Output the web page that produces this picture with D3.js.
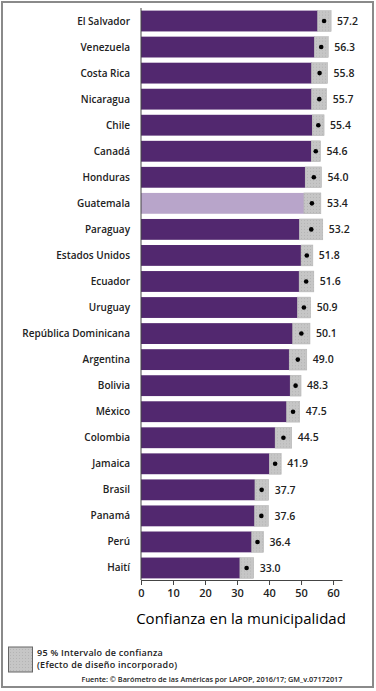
<!DOCTYPE html>
<html>
<head>
<meta charset="utf-8">
<script src="https://cdn.jsdelivr.net/npm/d3@7"></script>
<style>
  html, body { margin: 0; padding: 0; background: #fff; }
  svg { display: block; font-family: "Open Sans", "Noto Sans", sans-serif; }
</style>
</head>
<body>
<div id="chart"></div>
<script>
// Confianza en la municipalidad - LAPOP 2016/17

const countries = ['El Salvador', 'Venezuela', 'Costa Rica', 'Nicaragua', 'Chile', 'Canadá', 'Honduras',
  'Guatemala', 'Paraguay', 'Estados Unidos', 'Ecuador', 'Uruguay', 'República Dominicana', 'Argentina',
  'Bolivia', 'México', 'Colombia', 'Jamaica', 'Brasil', 'Panamá', 'Perú', 'Haití'];
const means = [57.2, 56.3, 55.8, 55.7, 55.4, 54.6, 54.0, 53.4, 53.2, 51.8, 51.6, 50.9, 50.1, 49.0,
  48.3, 47.5, 44.5, 41.9, 37.7, 37.6, 36.4, 33.0];
const ciLow = [55.2, 54.2, 53.3, 53.3, 53.5, 53.2, 51.3, 50.9, 49.5, 50.0, 49.4, 48.9, 47.4, 46.3,
  46.6, 45.5, 41.9, 40.1, 35.6, 35.5, 34.6, 30.9];
const ciHigh = [59.4, 58.5, 58.3, 58.0, 57.2, 56.1, 56.4, 56.2, 56.8, 53.7, 54.0, 53.0, 52.8, 51.8,
  50.0, 49.6, 47.1, 43.8, 39.9, 39.8, 38.3, 35.2];
const highlight = 'Guatemala';
const xTicks = [0, 10, 20, 30, 40, 50, 60];

const W = 376, H = 691;
const data = countries.map((c, i) => ({ name: c, mean: means[i], lo: ciLow[i], hi: ciHigh[i] }));

const svg = d3.select('#chart').append('svg')
  .attr('width', W)
  .attr('height', H);

// frame
svg.append('rect')
  .attr('x', 2).attr('y', 2)
  .attr('width', 371).attr('height', 685)
  .attr('fill', '#fff')
  .attr('stroke', '#8a8a8a')
  .attr('stroke-width', 2);

// stipple pattern for the CI boxes
const defs = svg.append('defs');
const pat = defs.append('pattern')
  .attr('id', 'stip')
  .attr('width', 3).attr('height', 3)
  .attr('patternUnits', 'userSpaceOnUse');
pat.append('rect').attr('width', 3).attr('height', 3).attr('fill', '#c6c6c6');
pat.append('rect').attr('x', 1).attr('y', 1).attr('width', 1).attr('height', 1).attr('fill', '#b4b4b4');

const x = d3.scaleLinear().domain([0, 62.8]).range([141, 342]);
const y = d3.scaleBand().domain(countries).range([8, 581]).paddingInner(0.2).paddingOuter(0.1);

const rows = svg.append('g').selectAll('g')
  .data(data).join('g')
  .attr('transform', d => `translate(0,${y(d.name)})`);

rows.append('rect')
  .attr('x', x(0))
  .attr('width', d => x(d.lo) - x(0))
  .attr('height', y.bandwidth())
  .attr('fill', d => d.name === highlight ? '#b8a5ca' : '#52286f');

rows.append('rect')
  .attr('x', d => x(d.lo))
  .attr('width', d => x(d.hi) - x(d.lo))
  .attr('height', y.bandwidth())
  .attr('fill', 'url(#stip)')
  .attr('stroke', '#b0b0b0')
  .attr('stroke-width', 0.5);

rows.append('circle')
  .attr('cx', d => x(d.mean))
  .attr('cy', y.bandwidth() / 2)
  .attr('r', 2.3)
  .attr('fill', '#000');

rows.append('text')
  .attr('x', d => x(d.hi) + 6)
  .attr('y', y.bandwidth() / 2)
  .attr('dy', '0.35em')
  .attr('font-size', 10.5)
  .attr('font-weight', 600)
  .attr('fill', '#222')
  .text(d => d.mean.toFixed(1));

rows.append('text')
  .attr('x', 130)
  .attr('y', y.bandwidth() / 2)
  .attr('dy', '0.35em')
  .attr('text-anchor', 'end')
  .attr('font-size', 10)
  .attr('font-weight', 600)
  .attr('fill', '#222')
  .text(d => d.name);

// y axis line
svg.append('line')
  .attr('x1', x(0)).attr('x2', x(0))
  .attr('y1', 8).attr('y2', 580)
  .attr('stroke', '#444')
  .attr('stroke-width', 1);

// x axis
const xAxis = svg.append('g')
  .attr('transform', 'translate(0,580)')
  .call(d3.axisBottom(x).tickValues(xTicks).tickSize(5).tickPadding(4).tickSizeOuter(0));
xAxis.select('.domain').attr('stroke', '#444');
xAxis.selectAll('.tick line').attr('stroke', '#444');
xAxis.selectAll('.tick text')
  .attr('font-size', 11)
  .attr('font-weight', 600)
  .attr('fill', '#222')
  .attr('font-family', '"Open Sans", sans-serif');

svg.append('text')
  .attr('x', 241).attr('y', 624)
  .attr('text-anchor', 'middle')
  .attr('font-size', 15)
  .attr('font-weight', 500)
  .attr('fill', '#000')
  .text('Confianza en la municipalidad');

// legend
svg.append('rect')
  .attr('x', 8.5).attr('y', 647)
  .attr('width', 24).attr('height', 25)
  .attr('fill', 'url(#stip)')
  .attr('stroke', '#666')
  .attr('stroke-width', 1);

const legendLines = ['95 % Intervalo de confianza', '(Efecto de diseño incorporado)'];
svg.append('g').selectAll('text')
  .data(legendLines).join('text')
  .attr('x', 37)
  .attr('y', (d, i) => 655.5 + i * 12.5)
  .attr('font-size', 9)
  .attr('font-weight', 600)
  .attr('letter-spacing', 0.25)
  .attr('fill', '#222')
  .text(d => d);

svg.append('text')
  .attr('x', 212).attr('y', 681.5)
  .attr('text-anchor', 'middle')
  .attr('font-size', 7.3)
  .attr('font-weight', 600)
  .attr('fill', '#222')
  .text('Fuente: © Barómetro de las Américas por LAPOP, 2016/17; GM_v.07172017');
</script>
</body>
</html>
